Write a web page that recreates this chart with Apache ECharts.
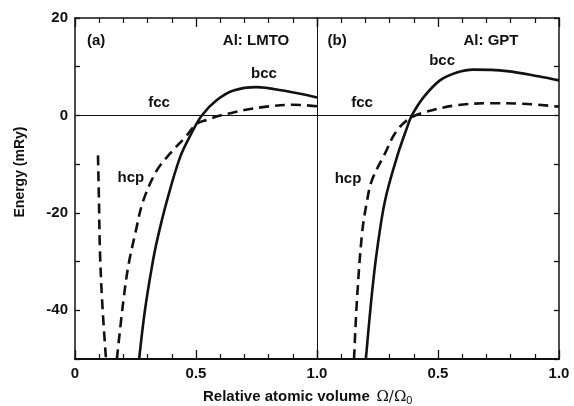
<!DOCTYPE html>
<html>
<head>
<meta charset="utf-8">
<script src="https://cdn.jsdelivr.net/npm/echarts@6/dist/echarts.min.js"></script>
<style>
  html, body { margin: 0; padding: 0; background: #fff; }
  #chart { width: 574px; height: 406px; }
</style>
</head>
<body>
<div id="chart"></div>
<script>
// Energy of bcc and hcp aluminium relative to fcc, vs. relative atomic volume
// Panel (a): LMTO, panel (b): GPT. Points are [volume, energy in mRy].
const lmtoBcc = [[0.265, -50], [0.289, -40], [0.318, -31], [0.339, -25.7], [0.38, -17.5],
  [0.434, -8.6], [0.483, -3.5], [0.524, 0], [0.585, 3.1], [0.655, 5.1], [0.75, 5.8],
  [0.86, 5.1], [1.0, 3.7]];
const lmtoHcp = [[0.173, -50], [0.2, -38], [0.22, -31], [0.25, -24], [0.282, -17.5],
  [0.338, -11.3], [0.393, -7.8], [0.455, -4.5], [0.504, -1.7], [0.545, -0.9], [0.6, 0],
  [0.655, 0.6], [0.7, 1.1], [0.79, 1.8], [0.9, 2.2], [1.0, 1.9]];
const lmtoHcpLow = [[0.095, -8.2], [0.099, -17.5], [0.103, -27.7], [0.112, -38], [0.128, -50]];

const gptBcc = [[0.202, -50], [0.227, -36.6], [0.248, -27.7], [0.281, -17.5], [0.33, -8.6],
  [0.372, -2.5], [0.392, 0], [0.44, 3.7], [0.508, 7.2], [0.578, 8.8], [0.645, 9.4],
  [0.785, 9.1], [0.92, 8.0], [1.0, 7.2]];
const gptHcp = [[0.153, -50], [0.165, -38], [0.186, -24.3], [0.207, -17.5], [0.227, -13.3],
  [0.281, -7.8], [0.322, -3.7], [0.372, -1.0], [0.44, 0.6], [0.578, 2.1], [0.715, 2.5],
  [0.85, 2.4], [1.0, 1.8]];

// Axis ranges and labelled ticks
const xRange = [0, 1];
const yRange = [-50, 20];
const xTickLabels = { '0': '0', '0.5': '0.5', '1': '1.0' };
const yTickLabels = { '20': '20', '0': '0', '-20': '-20', '-40': '-40' };

// Curve annotations: [text, panel, x, y]
const curveLabels = [
  ['(a)', 0, 0.087, 15.4], ['Al: LMTO', 0, 0.748, 15.4],
  ['bcc', 0, 0.781, 8.6], ['fcc', 0, 0.347, 2.5], ['hcp', 0, 0.231, -12.9],
  ['(b)', 1, 0.083, 15.4], ['Al: GPT', 1, 0.719, 15.4],
  ['bcc', 1, 0.517, 11.3], ['fcc', 1, 0.186, 2.5], ['hcp', 1, 0.128, -13.1]
];

const INK = '#111';
const FONT = '"Liberation Sans", Arial, sans-serif';

const chart = echarts.init(document.getElementById('chart'), null, { renderer: 'canvas' });

function xAxisDef(gridIndex, position, showLabels, hideZero) {
  return {
    type: 'value', gridIndex, position, min: xRange[0], max: xRange[1], interval: 0.5,
    axisLine: { show: true, onZero: false, lineStyle: { color: INK, width: position === 'bottom' ? 2 : 1.5 } },
    axisTick: { show: true, inside: true, length: 9, lineStyle: { color: INK, width: 1.3 } },
    minorTick: { show: true, splitNumber: 5, length: 5, lineStyle: { color: INK, width: 1.2 } },
    splitLine: { show: false },
    axisLabel: {
      show: showLabels, margin: 7, color: INK, fontFamily: FONT, fontWeight: 'bold', fontSize: 15,
      formatter: v => (hideZero && v === 0) ? '' : (xTickLabels[String(v)] || '')
    }
  };
}

function yAxisDef(gridIndex, position, opts) {
  return Object.assign({
    type: 'value', gridIndex, position, min: yRange[0], max: yRange[1], interval: 10,
    axisLine: { show: true, onZero: false, lineStyle: { color: INK, width: 1.5 } },
    axisTick: { show: true, inside: true, length: 5, lineStyle: { color: INK, width: 1.3 } },
    splitLine: { show: false },
    axisLabel: { show: false }
  }, opts);
}

function curve(data, xi, yi, dashed, withZero) {
  const s = {
    type: 'line', data, xAxisIndex: xi, yAxisIndex: yi, showSymbol: false, symbol: 'none',
    smooth: 0.35, clip: true, silent: true,
    lineStyle: { color: INK, width: 2.6, type: dashed ? [10, 6] : 'solid', cap: 'butt' },
    z: 3
  };
  if (withZero) {
    s.markLine = {
      silent: true, symbol: ['none', 'none'], label: { show: false },
      lineStyle: { color: INK, width: 1.2, type: 'solid' },
      data: [{ yAxis: 0 }], animation: false
    };
  }
  return s;
}

chart.setOption({
  animation: false,
  backgroundColor: '#fff',
  grid: [
    { left: 75, right: 257, top: 18, bottom: 47 },
    { left: 317, right: 15, top: 18, bottom: 47 }
  ],
  xAxis: [
    xAxisDef(0, 'bottom', true, false),
    xAxisDef(0, 'top', false, false),
    xAxisDef(1, 'bottom', true, true),
    xAxisDef(1, 'top', false, false)
  ],
  yAxis: [
    yAxisDef(0, 'left', {
      axisLabel: {
        show: true, margin: 7, color: INK, fontFamily: FONT, fontWeight: 'bold', fontSize: 15,
        formatter: v => yTickLabels[String(v)] || ''
      }
    }),
    yAxisDef(1, 'left', {
      axisLine: { show: true, onZero: false, lineStyle: { color: INK, width: 1 } },
      axisTick: { show: false }
    }),
    yAxisDef(1, 'right', {})
  ],
  series: [
    curve(lmtoBcc, 0, 0, false, true),
    curve(lmtoHcp, 0, 0, true, false),
    curve(lmtoHcpLow, 0, 0, true, false),
    curve(gptBcc, 2, 1, false, true),
    curve(gptHcp, 2, 1, true, false)
  ]
});

// Text annotations placed in data coordinates of each panel
const graphics = curveLabels.map(([text, panel, x, y]) => {
  const p = chart.convertToPixel({ xAxisIndex: panel === 0 ? 0 : 2, yAxisIndex: panel === 0 ? 0 : 1 }, [x, y]);
  return {
    type: 'text', x: p[0], y: p[1], silent: true,
    style: { text, fill: INK, font: 'bold 15px ' + FONT, textAlign: 'center', textVerticalAlign: 'middle' }
  };
});

// Axis titles
graphics.push({
  type: 'text', x: 20, y: 172, rotation: Math.PI / 2, silent: true,
  style: { text: 'Energy (mRy)', fill: INK, font: 'bold 14px ' + FONT, textAlign: 'center', textVerticalAlign: 'middle' }
});
graphics.push({
  type: 'text', x: 203, y: 397, silent: true,
  style: {
    text: '{a|Relative atomic volume}  {b|Ω/Ω}{c|0}',
    textVerticalAlign: 'middle',
    rich: {
      a: { fontFamily: FONT, fontWeight: 'bold', fontSize: 15, fill: INK },
      b: { fontFamily: '"DejaVu Serif", "Liberation Serif", serif', fontSize: 15, fill: INK },
      c: { fontFamily: FONT, fontSize: 11, fill: INK, padding: [8, 0, 0, 0] }
    }
  }
});

chart.setOption({ graphic: graphics });
</script>
</body>
</html>
